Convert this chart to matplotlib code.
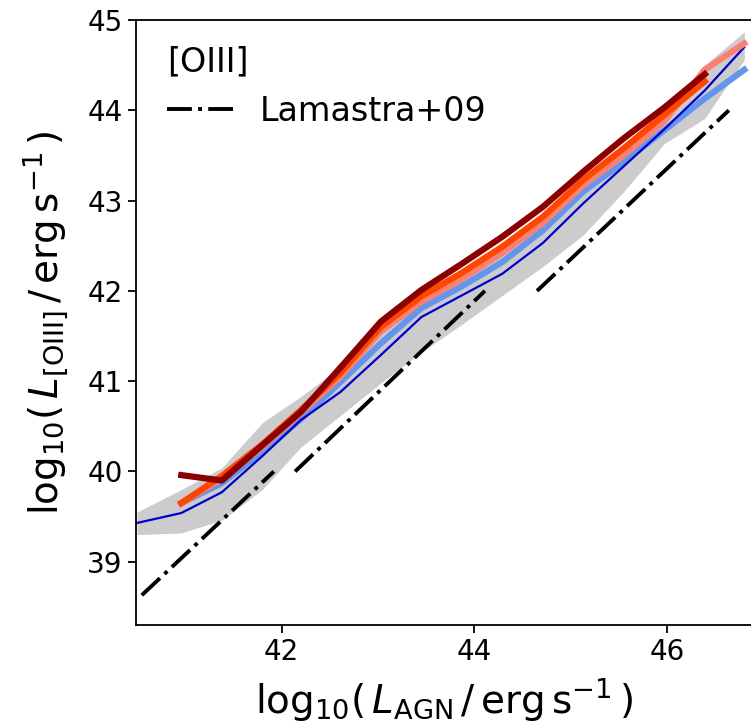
import numpy as np
import matplotlib
matplotlib.use("Agg")
import matplotlib.pyplot as plt

plt.rcParams['mathtext.fontset'] = 'dejavusans'

# luminosity bins (log10 L_AGN)
x_bins = [40.50, 40.96, 41.38, 41.80, 42.20, 42.61, 43.03, 43.45,
          43.87, 44.29, 44.71, 45.13, 45.55, 45.97, 46.39, 46.80]

# shaded range
band_lo = [39.30, 39.32, 39.46, 39.80, 40.27, 40.62, 40.98, 41.32,
           41.63, 41.95, 42.27, 42.62, 43.10, 43.63, 43.91, 44.56]
band_hi = [39.55, 39.80, 40.04, 40.54, 40.83, 41.16, 41.60, 41.90,
           42.20, 42.45, 42.80, 43.20, 43.55, 43.95, 44.50, 44.87]

# thin median line
y_thin = [39.43, 39.54, 39.77, 40.17, 40.57, 40.88, 41.29, 41.71,
          41.95, 42.19, 42.53, 42.97, 43.38, 43.79, 44.22, 44.70]

# thick lines (start at second bin)
y_cornflower = [39.65, 39.87, 40.22, 40.58, 40.99, 41.42, 41.81,
                42.05, 42.32, 42.67, 43.10, 43.43, 43.78, 44.13, 44.45]
y_salmon = [39.65, 39.92, 40.27, 40.65, 41.05, 41.55, 41.88,
            42.13, 42.42, 42.75, 43.17, 43.50, 43.88, 44.45, 44.74]
# these two stop one bin earlier
y_orangered = [39.65, 39.95, 40.30, 40.68, 41.09, 41.60, 41.94,
               42.20, 42.49, 42.82, 43.23, 43.58, 43.95, 44.32]
y_darkred = [39.96, 39.90, 40.29, 40.66, 41.15, 41.66, 42.01,
             42.30, 42.60, 42.93, 43.32, 43.69, 44.03, 44.40]

# Lamastra+09 relation, three pieces
lam_x = [[40.55, 41.92], [42.14, 44.11], [44.65, 46.64]]
lam_y = [[38.63, 40.00], [40.00, 42.00], [42.00, 44.00]]

fig = plt.figure(figsize=(7.51, 7.25), dpi=100)
ax = fig.add_axes([136/751, 100/725, 616/751, 605/725])

ax.fill_between(x_bins, band_lo, band_hi, color='#cccccc', lw=0)
ax.plot(x_bins[1:], y_cornflower, color='cornflowerblue', lw=4.5)
ax.plot(x_bins, y_thin, color='mediumblue', lw=1.6)
ax.plot(x_bins[1:], y_salmon, color='salmon', lw=4.5)
ax.plot(x_bins[1:-1], y_orangered, color='orangered', lw=4.5)
ax.plot(x_bins[1:-1], y_darkred, color='darkred', lw=4.5)

for i in range(len(lam_x)):
    ax.plot(lam_x[i], lam_y[i], color='k', ls='-.', lw=2.8,
            label='Lamastra+09' if i == 0 else None)

ax.set_xlim(40.49, 46.88)
ax.set_ylim(38.3, 45)
ax.set_xticks([42, 44, 46])
ax.set_yticks([39, 40, 41, 42, 43, 44, 45])
ax.tick_params(labelsize=20, width=1.3, length=6)
for s in ax.spines.values():
    s.set_linewidth(1.3)

ax.set_xlabel(r'$\mathrm{log}_{10}(\,L_{\rm AGN}\,/\,\mathrm{erg\,s^{-1}}\,)$',
              fontsize=28, labelpad=7)
ax.set_ylabel(r'$\mathrm{log}_{10}(\,L_{\rm [OIII]}\,/\,\mathrm{erg\,s^{-1}}\,)$',
              fontsize=28, labelpad=12)

leg = ax.legend(loc='upper left', frameon=False, fontsize=24,
                title='[OIII]', title_fontsize=24, alignment='left',
                borderaxespad=0.3, bbox_to_anchor=(0.012, 0.997))

fig.savefig('out.png', dpi=100)
